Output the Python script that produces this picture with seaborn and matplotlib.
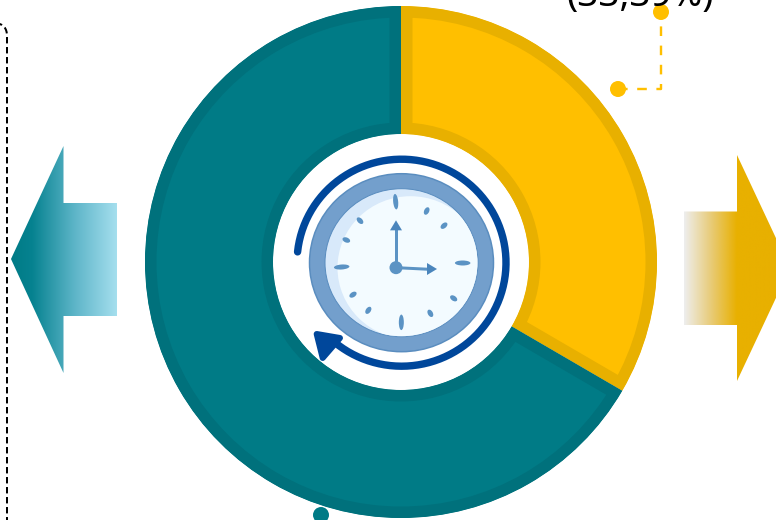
import numpy as np
import matplotlib
matplotlib.use("Agg")
import matplotlib.pyplot as plt
import seaborn as sns
from matplotlib.patches import Circle, Ellipse, Polygon, PathPatch
from matplotlib.path import Path
from matplotlib.colors import LinearSegmentedColormap

# data
shares = [33.39, 66.61]
share_label = "(33,39%)"
slice_colors = ["#FFBF00", "#007B86"]
rim_colors = ["#E8B000", "#00717C"]

W, H = 776, 520
sns.set_theme(style="white")
plt.rcParams["font.family"] = ["Noto Sans", "DejaVu Sans"]

fig = plt.figure(figsize=(W / 100, H / 100), dpi=100)
ax = fig.add_axes([0, 0, 1, 1])
PX = 72 / 100


def Y(y):
    return H - y


def pts(seq):
    return [(x, Y(y)) for x, y in seq]


# donut
wedges, _ = ax.pie(
    shares, colors=slice_colors, startangle=90, counterclock=False,
    center=(401, Y(262)), radius=256,
    wedgeprops=dict(width=128, linewidth=0),
)
for w, rim in zip(wedges, rim_colors):
    w.set_edgecolor(rim)
    w.set_linewidth(23 * PX)
    w.set_clip_on(True)
    w.set_clip_path(w)


def gradient_arrow(poly, x0, x1, stops):
    cmap = LinearSegmentedColormap.from_list("g", stops)
    ys = [p[1] for p in poly]
    grad = np.linspace(0, 1, 256).reshape(1, -1)
    im = ax.imshow(grad, extent=(x0, x1, Y(max(ys)), Y(min(ys))), cmap=cmap,
                   aspect="auto", origin="lower", zorder=2)
    clip = Polygon(pts(poly), closed=True, transform=ax.transData, fc="none", ec="none")
    ax.add_patch(clip)
    im.set_clip_path(clip)


gradient_arrow(
    [(11, 259), (63.5, 146), (63.5, 203), (117, 203), (117, 316), (63.5, 316), (63.5, 373)],
    11, 117, [(0, "#007B86"), (0.2, "#068290"), (0.6, "#5DB5C8"), (1, "#A5DFEE")],
)
gradient_arrow(
    [(684, 211.5), (737, 211.5), (737, 155), (790, 268), (737, 381), (737, 325), (684, 325)],
    684, 790, [(0, "#EEEEEE"), (0.25, "#E8CC7A"), (0.5, "#E8B000"), (1, "#E8B000")],
)

# dashed frame on the left
frame = Path(
    [(-4, Y(23)), (3, Y(24)), (7, Y(28)), (7, Y(36)), (7, Y(530))],
    [Path.MOVETO, Path.CURVE4, Path.CURVE4, Path.CURVE4, Path.LINETO],
)
ax.add_patch(PathPatch(frame, fc="none", ec="black", lw=2 * PX,
                       ls=(0, (3.2, 1.8)), zorder=3))

# leader line and dots
ax.plot(*zip(*pts([(618, 89), (661, 89), (661, 12)])), color="#FFBF00",
        lw=2.4 * PX, ls=(0, (4, 4)), zorder=3)
for x, y, c in [(618, 89, "#FFBF00"), (661, 12, "#FFBF00"), (321, 515, "#007B86")]:
    ax.add_patch(Circle((x, Y(y)), 8, fc=c, ec="none", zorder=4))
ax.text(640, Y(6), share_label, ha="center", va="baseline",
        fontsize=37 * PX, color="black", zorder=5)


# clock
def Z(x, y):
    return 270 + x / 3, Y(130 + y / 3)


ccx, ccy = 401.5, Y(262.7)
ax.add_patch(Ellipse((ccx, ccy), 184, 178, fc="#739FCC", ec="#5A8DBF", lw=1.5 * PX, zorder=5))
ax.add_patch(Ellipse((ccx, ccy), 153, 148, fc="#D8E9FA", ec="#5A8DBF", lw=1 * PX, zorder=6))
light = Ellipse((ccx + 9, ccy - 5), 146, 143, fc="#F3FBFF", ec="none", zorder=7)
ax.add_patch(light)
light.set_clip_path(Ellipse((ccx, ccy), 152, 147, transform=ax.transData))

tick_pos = [(377, 215), (470, 243), (522, 287), (578, 399), (551, 505), (481, 550),
            (394, 577), (295, 541), (249, 494), (215, 411), (229, 330), (270, 272)]
tick_big = [True, False, False, True, False, False, True, False, False, True, False, False]
for (zx, zy), big in zip(tick_pos, tick_big):
    x, y = Z(zx, zy)
    ang = np.degrees(np.arctan2(y - ccy, x - ccx))
    ax.add_patch(Ellipse((x, y), 15.5 if big else 8, 5, angle=ang,
                         fc="#5B93C4", ec="none", zorder=8))

hub = Z(378, 413)
ax.plot([hub[0], Z(378, 290)[0]], [hub[1], Z(378, 290)[1]], color="#5B93C4", lw=3 * PX, zorder=8)
ax.plot([hub[0], Z(480, 418)[0]], [hub[1], Z(480, 418)[1]], color="#5B93C4", lw=3 * PX, zorder=8)
ax.add_patch(Polygon([Z(378, 271), Z(396, 301), Z(360, 301)], closed=True,
                     fc="#4A85BC", ec="none", zorder=8))
ax.add_patch(Polygon([Z(501, 417), Z(471, 399), Z(471, 435)], closed=True,
                     fc="#4A85BC", ec="none", zorder=8))
ax.add_patch(Circle(hub, 6.5, fc="#5B93C4", ec="none", zorder=9))

# circular arrow
t = np.radians(np.linspace(174, -132, 300))
ax.plot(ccx + 104.5 * np.cos(t), ccy + 103.5 * np.sin(t), color="#00479B",
        lw=7.4 * PX, solid_capstyle="round", zorder=5)
ax.add_patch(Polygon([Z(140, 612), Z(210, 624), Z(158, 684)], closed=True,
                     fc="#00479B", ec="#00479B", lw=6 * PX, joinstyle="round", zorder=5))

ax.set_xlim(0, W)
ax.set_ylim(0, H)
ax.set_aspect("equal")
ax.axis("off")
fig.savefig("out.png", dpi=100)
